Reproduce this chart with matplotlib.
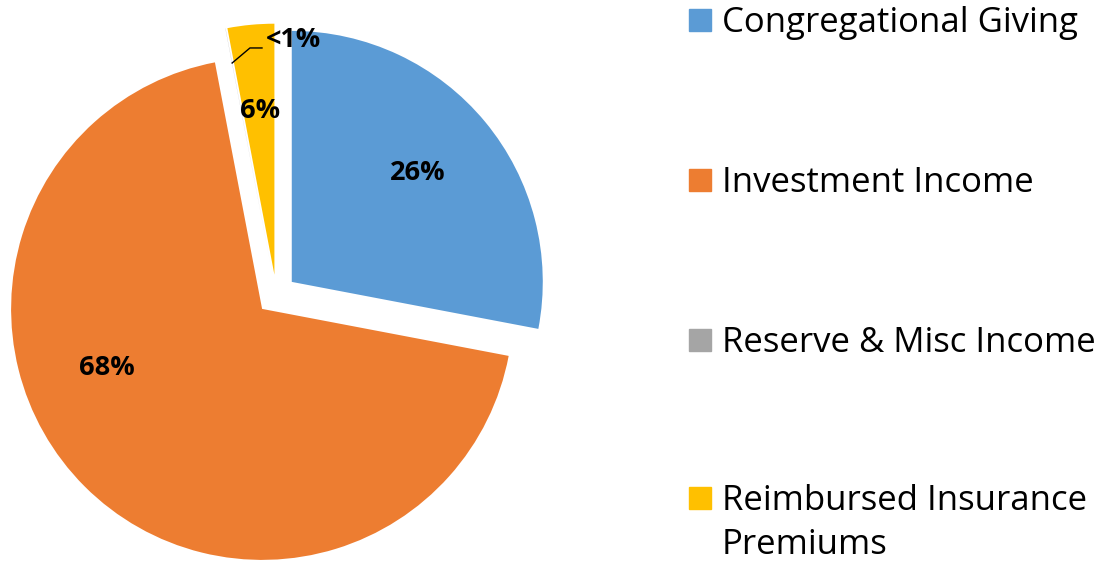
import matplotlib
matplotlib.use('Agg')
import matplotlib.pyplot as plt
from matplotlib.patches import Rectangle

# data
categories = ['Congregational Giving', 'Investment Income',
              'Reserve & Misc Income', 'Reimbursed Insurance\nPremiums']
values = [28.0, 69.0, 0.01, 3.0]
pct_labels = ['26%', '68%', '<1%', '6%']
colors = ['#5B9BD5', '#ED7D31', '#A5A5A5', '#FFC000']

# label spots (pie units, radius = 1)
label_pos = [(0.565, 0.484), (-0.675, -0.291), (0.067, 1.015), (-0.065, 0.732)]
leader = [(-0.176, 0.923), (-0.105, 0.983), (-0.057, 0.983)]

plt.rcParams['font.family'] = ['Open Sans', 'DejaVu Sans']

W, H = 1112, 563
fig = plt.figure(figsize=(W / 100, H / 100), dpi=100)
ax = fig.add_axes([0, 0, 1, 1])

cx, cy, r = 276.3, 294.7, 251.0
ax.pie(values, colors=colors, startangle=90, counterclock=False,
       explode=[0.08] * len(values), radius=1, center=(0, 0),
       wedgeprops=dict(linewidth=0))
ax.set_xlim(-cx / r, (W - cx) / r)
ax.set_ylim(-(H - cy) / r, cy / r)
ax.set_aspect('auto')
ax.axis('off')

for txt, (x, y) in zip(pct_labels, label_pos):
    ax.text(x, y, txt, ha='center', va='center', fontsize=19.5,
            fontweight='bold', color='black')
ax.plot([p[0] for p in leader], [p[1] for p in leader], color='black', lw=1)

# legend, one baseline per line of text
rows_y = [20, 180, 340, 498]
for name, col, y in zip(categories, colors, rows_y):
    fig.patches.append(Rectangle((689 / W, 1 - (y + 11) / H), 22 / W, 22 / H,
                                 transform=fig.transFigure, color=col))
    for i, line in enumerate(name.split('\n')):
        fig.text(722 / W, 1 - (y + 11.5 + 44 * i) / H, line, ha='left',
                 va='baseline', fontsize=25, color='black')

fig.savefig('out.png', dpi=100)
